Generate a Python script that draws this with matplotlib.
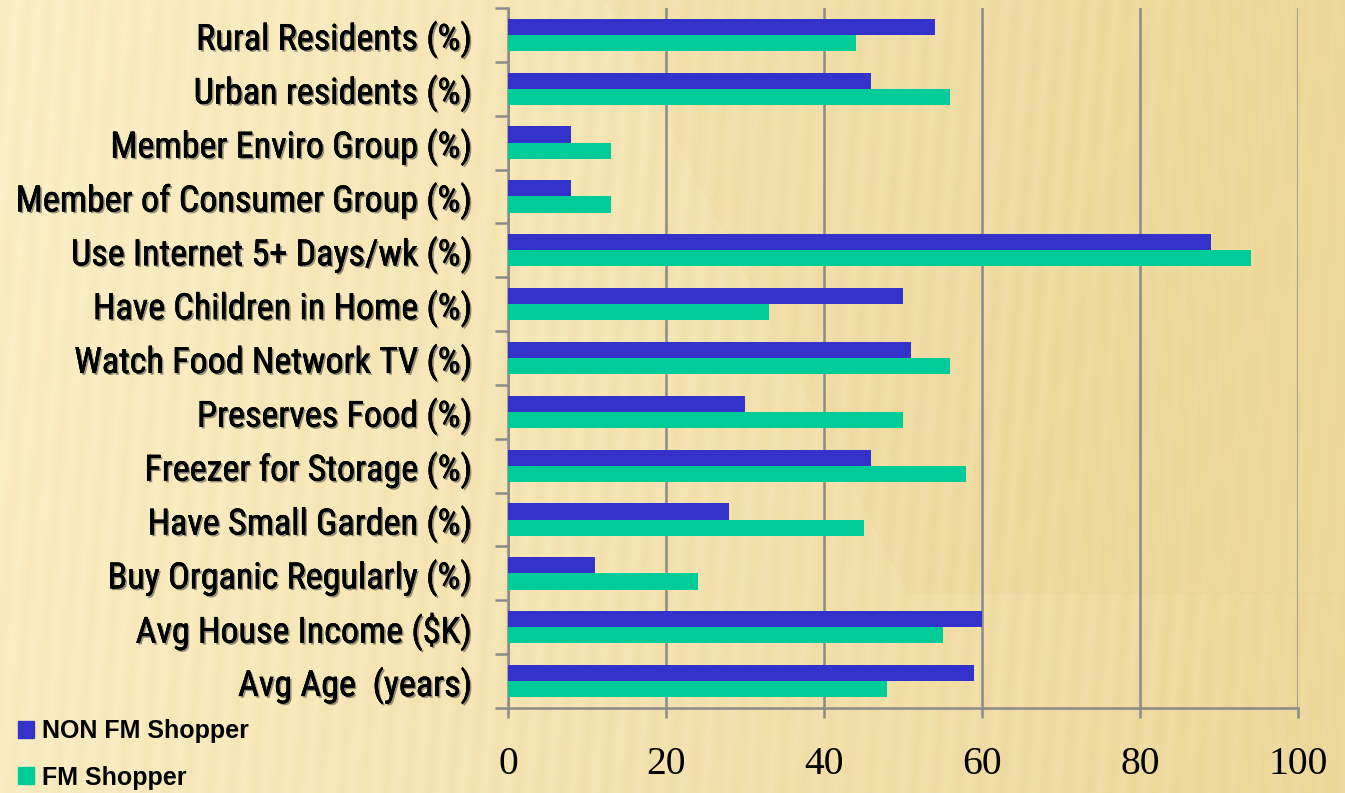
import numpy as np
import matplotlib
matplotlib.use("Agg")
import matplotlib.pyplot as plt
import matplotlib.patheffects as pe
import matplotlib.transforms as mtrans
from matplotlib.patches import Patch
from matplotlib import font_manager as fm_

categories = [
    "Rural Residents (%)", "Urban residents (%)", "Member Enviro Group (%)",
    "Member of Consumer Group (%)", "Use Internet 5+ Days/wk (%)",
    "Have Children in Home (%)", "Watch Food Network TV (%)",
    "Preserves Food (%)", "Freezer for Storage (%)", "Have Small Garden (%)",
    "Buy Organic Regularly (%)", "Avg House Income ($K)", "Avg Age  (years)",
]
non_fm = [54, 46, 8, 8, 89, 50, 51, 30, 46, 28, 11, 60, 59]
fm = [44, 56, 13, 13, 94, 33, 56, 50, 58, 45, 24, 55, 48]
series_names = ["NON FM Shopper", "FM Shopper"]
x_ticks = [0, 20, 40, 60, 80, 100]

BLUE = "#3333CC"
GREEN = "#00CC99"
GRID = "#8a8a8a"

# choose a narrow sans if available
narrow = None
for f in fm_.fontManager.ttflist:
    if "Narrow" in f.name or "Condensed" in f.name:
        if f.weight in (400, "normal", "regular") and f.style == "normal":
            narrow = f.name
            if "Liberation" in f.name or "Arial" in f.name:
                break
if narrow:
    label_font = dict(family=narrow, fontsize=26)
else:
    label_font = dict(family="Liberation Sans", fontsize=22.7)

fig = plt.figure(figsize=(13.45, 7.93), dpi=100)

# background
bg = fig.add_axes([0, 0, 1, 1], zorder=-10)
W, H = 1345, 793
xx, yy = np.meshgrid(np.linspace(0, 1, W), np.linspace(0, 1, H))
light = np.array([252, 241, 202]) / 255.0
dark = np.array([236, 214, 152]) / 255.0
t = np.clip(0.1 + 0.75 * xx + 0.1 * yy, 0, 1)
t = np.clip(t + 0.12 * ((xx > 0.45 + 0.3 * yy) & (yy < 0.75)), 0, 1)
stripes = 0.08 * np.sin(2 * np.pi * (xx * W + yy * 60) / 22.0)
t = np.clip(t + stripes, 0, 1)
img = light[None, None, :] * (1 - t[..., None]) + dark[None, None, :] * t[..., None]
bg.imshow(img, aspect="auto", extent=[0, 1, 0, 1], origin="upper")
bg.axis("off")

ax = fig.add_axes([508 / W, 1 - 708 / H, (1298 - 508) / W, (708 - 8) / H])
ax.set_facecolor("none")

y = np.arange(len(categories))
h = 0.3
ax.barh(y - h / 2, non_fm, height=h, color=BLUE, zorder=3, label=series_names[0])
ax.barh(y + h / 2, fm, height=h, color=GREEN, zorder=3, label=series_names[1])

ax.set_ylim(len(categories) - 0.5, -0.5)
ax.set_xlim(0, 100)
ax.set_xticks(x_ticks)
ax.set_xticklabels([str(v) for v in x_ticks], family="Liberation Serif", fontsize=28.5)
ax.set_yticks(y)
ax.set_yticklabels(categories, color="black", **label_font)
shift = mtrans.ScaledTranslation(0, 2.5 / 72, fig.dpi_scale_trans)
for lab in ax.get_yticklabels():
    lab.set_transform(lab.get_transform() + shift)
    lab.set_path_effects([pe.withSimplePatchShadow(offset=(1.3, -1.3), shadow_rgbFace="#333333", alpha=0.5),
                          pe.withStroke(linewidth=0.25, foreground="black")])
ax.set_yticks(np.arange(-0.5, len(categories), 1.0), minor=True)
ax.tick_params(axis="y", which="major", length=0, pad=26)
ax.tick_params(axis="y", which="minor", length=9.5, width=1.8, color=GRID)
ax.tick_params(axis="x", which="major", length=7, width=1.8, color=GRID, pad=20)

ax.grid(axis="x", color=GRID, linewidth=1.8, zorder=1)
for s in ["top", "right"]:
    ax.spines[s].set_visible(False)
for s in ["left", "bottom"]:
    ax.spines[s].set_color(GRID)
    ax.spines[s].set_linewidth(1.8)

handles = [Patch(color=BLUE), Patch(color=GREEN)]
leg = fig.legend(handles, series_names, loc="upper left", bbox_to_anchor=(18 / W, 1 - 719 / H),
                 frameon=False, prop={"family": "Liberation Sans", "weight": "bold", "size": 18},
                 handlelength=0.64, handleheight=0.68, handletextpad=0.3, labelspacing=0.9,
                 borderpad=0, borderaxespad=0)

fig.savefig("out.png", dpi=100)
